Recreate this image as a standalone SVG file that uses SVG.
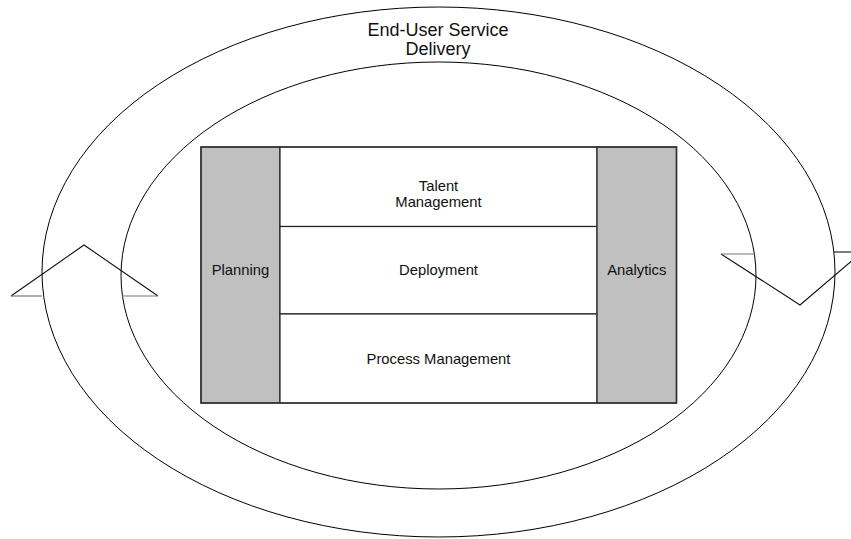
<svg xmlns="http://www.w3.org/2000/svg" width="851" height="539" viewBox="0 0 851 539">
<style>
.ring{fill:none;stroke:#000;stroke-width:1}
.col{fill:#c0c0c0;stroke:#333;stroke-width:1.4}
.row{fill:#fff;stroke:#222;stroke-width:1.2}
.chev{fill:none;stroke:#111;stroke-width:1.1}
.base{fill:none;stroke:#777;stroke-width:1.2}
text{font-family:"Liberation Sans",Arial,sans-serif;fill:#111;text-anchor:middle}
.t{font-size:14.8px}
.big{font-size:18px}
</style>
<rect width="851" height="539" fill="#fff"/>
<g id="ring">
<ellipse class="ring" cx="438.5" cy="272" rx="396.5" ry="265"/>
<ellipse class="ring" cx="438.5" cy="275.5" rx="317.5" ry="213.5"/>
<text class="big" x="438" y="36">End-User Service</text>
<text class="big" x="438" y="55">Delivery</text>
</g>
<g id="connectors">
<polyline class="chev" points="11,296 84,245 158,296"/>
<line class="base" x1="11" y1="296" x2="42" y2="296"/>
<line class="base" x1="122" y1="296" x2="158" y2="296"/>
<polyline class="chev" points="721,254 800,305 862,252"/>
<line class="base" x1="721" y1="254" x2="754" y2="254"/>
<line class="chev" x1="834" y1="252" x2="851" y2="252"/>
</g>
<g id="planning">
<rect class="col" x="201" y="147" width="79" height="256"/>
<text class="t" x="240.5" y="275">Planning</text>
</g>
<g id="talent">
<rect class="row" x="280" y="147" width="317" height="79.5"/>
<text class="t" x="438.5" y="191">Talent</text>
<text class="t" x="438.5" y="206.5">Management</text>
</g>
<g id="deployment">
<rect class="row" x="280" y="226.5" width="317" height="87.5"/>
<text class="t" x="438.5" y="274.5">Deployment</text>
</g>
<g id="process">
<rect class="row" x="280" y="314" width="317" height="89"/>
<text class="t" x="438.5" y="363.5">Process Management</text>
</g>
<g id="analytics">
<rect class="col" x="597" y="147" width="79.5" height="256"/>
<text class="t" x="636.8" y="275">Analytics</text>
</g>
<rect x="201" y="147" width="475.5" height="256" fill="none" stroke="#333" stroke-width="1.4"/>
</svg>
